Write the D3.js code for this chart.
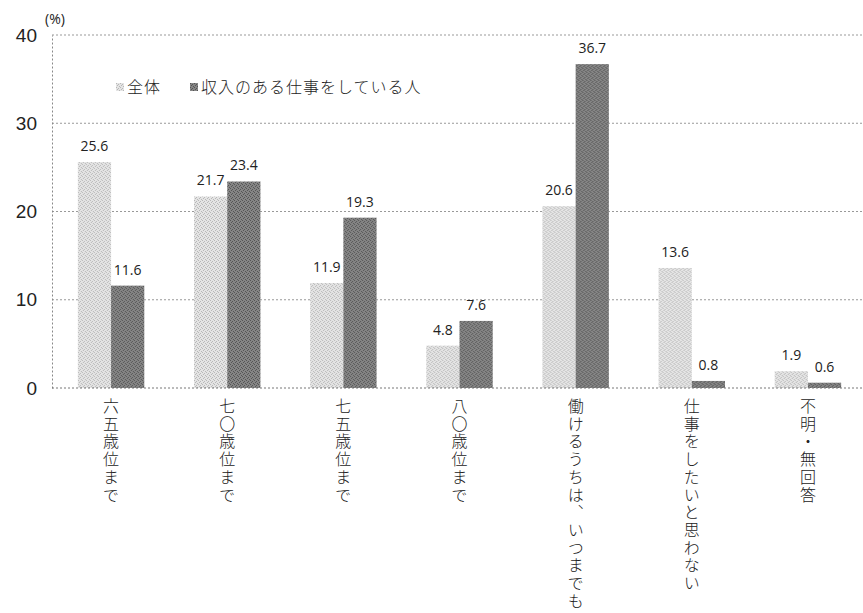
<!DOCTYPE html>
<html>
<head>
<meta charset="utf-8">
<script src="https://cdn.jsdelivr.net/npm/d3@7"></script>
<style>
  body { margin: 0; background: #fff; }
  svg { display: block; }
  .jp { font-family: "Noto Sans CJK JP", sans-serif; font-weight: 300; fill: #222; }
  .num { font-family: "Open Sans", "Liberation Sans", Arial, sans-serif; fill: #222; }
</style>
</head>
<body>
<svg class="chart"></svg>
<script>
// categories (x axis) and the two series
var categories = ["六五歳位まで", "七〇歳位まで", "七五歳位まで", "八〇歳位まで",
                  "働けるうちは、いつまでも", "仕事をしたいと思わない", "不明・無回答"];
var seriesNames = ["全体", "収入のある仕事をしている人"];
var zentai = [25.6, 21.7, 11.9, 4.8, 20.6, 13.6, 1.9];
var shunyu = [11.6, 23.4, 19.3, 7.6, 36.7, 0.8, 0.6];
var yTicks = [0, 10, 20, 30, 40];

var width = 863, height = 613;
var svg = d3.select(".chart").attr("width", width).attr("height", height);

// stipple patterns for the two bar fills
var defs = svg.append("defs");
function stipple(id, base, dot){
  var p = defs.append("pattern").attr("id", id)
    .attr("width", 4).attr("height", 4).attr("patternUnits", "userSpaceOnUse");
  p.append("rect").attr("width", 4).attr("height", 4).attr("fill", base);
  [[0,0],[2,1],[1,2],[3,3]].forEach(function(c){
    p.append("rect").attr("x", c[0]).attr("y", c[1]).attr("width", 1).attr("height", 1).attr("fill", dot);
  });
}
stipple("pLight", "#e4e4e4", "#b8b8b8");
stipple("pDark", "#858585", "#555");
var fills = ["url(#pLight)", "url(#pDark)"];

var x0 = d3.scaleBand().domain(categories).range([53, 866]).paddingInner(0.428).paddingOuter(0.214);
var x1 = d3.scaleBand().domain([0, 1]).range([0, x0.bandwidth()]);
var y = d3.scaleLinear().domain([0, 40]).range([388, 35]);

// gridlines
svg.append("g").selectAll("line").data(yTicks.slice(1)).enter().append("line")
  .attr("x1", 52).attr("x2", 866)
  .attr("y1", function(d){ return y(d); }).attr("y2", function(d){ return y(d); })
  .attr("stroke", "#999").attr("stroke-width", 1).attr("stroke-dasharray", "2,2");

// y axis (dotted) with labels
var yAxis = d3.axisLeft(y).tickValues(yTicks).tickSize(0).tickPadding(15);
var yg = svg.append("g").attr("transform", "translate(52,0)").call(yAxis);
yg.select(".domain").attr("stroke", "#888").attr("stroke-dasharray", "2,2");
yg.selectAll("text").attr("class", "num").style("font-family", "'Liberation Sans', Arial, sans-serif")
  .style("font-size", "19px").attr("fill", "#222");

svg.append("text").attr("class", "num").attr("x", 45).attr("y", 24)
  .style("font-size", "14px").text("(%)");

// bars
var rows = categories.map(function(c, i){ return { cat: c, vals: [zentai[i], shunyu[i]] }; });
var groups = svg.append("g").selectAll("g").data(rows).enter().append("g")
  .attr("transform", function(d){ return "translate(" + x0(d.cat) + ",0)"; });

groups.selectAll("rect").data(function(d){ return d.vals; }).enter().append("rect")
  .attr("x", function(d, i){ return x1(i); })
  .attr("y", function(d){ return y(d); })
  .attr("width", x1.bandwidth())
  .attr("height", function(d){ return y(0) - y(d); })
  .attr("fill", function(d, i){ return fills[i]; });

groups.selectAll("text.val").data(function(d){ return d.vals; }).enter().append("text")
  .attr("class", "val num")
  .attr("x", function(d, i){ return x1(i) + x1.bandwidth() / 2; })
  .attr("y", function(d){ return y(d) - 11; })
  .attr("text-anchor", "middle")
  .style("font-size", "14px")
  .text(function(d){ return d.toFixed(1); });

// baseline (dotted)
svg.append("line").attr("x1", 52).attr("x2", 866).attr("y1", y(0)).attr("y2", y(0))
  .attr("stroke", "#777").attr("stroke-dasharray", "2,2");

// vertical category labels
svg.append("g").selectAll("text").data(categories).enter().append("text")
  .attr("class", "jp")
  .attr("x", function(d){ return x0(d) + x0.bandwidth() / 2; })
  .attr("y", 398)
  .style("writing-mode", "vertical-rl")
  .style("font-size", "16px")
  .style("letter-spacing", "1.7px")
  .text(function(d){ return d; });

// legend
var legend = svg.append("g").selectAll("g").data(seriesNames).enter().append("g")
  .attr("transform", function(d, i){ return "translate(" + (i === 0 ? 116 : 190) + ",87)"; });
legend.append("rect").attr("x", 0).attr("y", -4).attr("width", 8).attr("height", 8)
  .attr("fill", function(d, i){ return fills[i]; });
legend.append("text").attr("class", "jp").attr("x", 11).attr("y", 6)
  .style("font-size", "16px").style("letter-spacing", "1px")
  .text(function(d){ return d; });
</script>
</body>
</html>
